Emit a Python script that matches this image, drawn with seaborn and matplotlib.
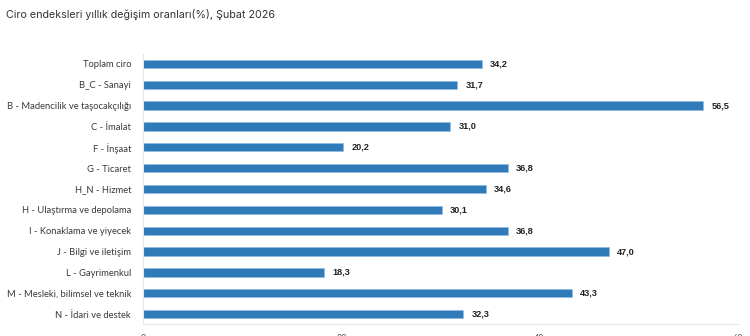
import matplotlib
matplotlib.use("Agg")
import matplotlib.pyplot as plt
import seaborn as sns
import pandas as pd

categories = [
    "Toplam ciro",
    "B_C - Sanayi",
    "B - Madencilik ve taşocakçılığı",
    "C - İmalat",
    "F - İnşaat",
    "G - Ticaret",
    "H_N - Hizmet",
    "H - Ulaştırma ve depolama",
    "I - Konaklama ve yiyecek",
    "J - Bilgi ve iletişim",
    "L - Gayrimenkul",
    "M - Mesleki, bilimsel ve teknik",
    "N - İdari ve destek",
]
values = [34.2, 31.7, 56.5, 31.0, 20.2, 36.8, 34.6, 30.1, 36.8, 47.0, 18.3, 43.3, 32.3]
x_ticks = [0, 20, 40, 60]
title = "Ciro endeksleri yıllık değişim oranları(%), Şubat 2026"

df = pd.DataFrame({"sektor": categories, "oran": values})

sns.set_theme(style="white")
plt.rcParams["font.family"] = ["Lato", "DejaVu Sans"]

fig = plt.figure(figsize=(7.5, 3.36), dpi=100)
ax = fig.add_axes([0.1907, 0.0357, 0.7933, 0.8036])

sns.barplot(data=df, y="sektor", x="oran", orient="h", color="#2f7ab9",
            width=0.4, saturation=1, edgecolor="#8fbde3", linewidth=0.4, ax=ax)

for i, v in enumerate(values):
    ax.text(v + 0.8, i, f"{v:.1f}".replace(".", ","), va="center", ha="left",
            fontsize=6.6, fontweight="bold", color="#222222",
            family=["Liberation Sans", "DejaVu Sans"])

ax.set_xlim(0, 60)
ax.set_ylim(12.48, -0.48)
ax.set_xticks(x_ticks)
ax.set_xticklabels([str(t) for t in x_ticks])
ax.set_xlabel("")
ax.set_ylabel("")
ax.tick_params(axis="x", length=0, pad=7, labelsize=6.5, labelcolor="#555555")
ax.tick_params(axis="y", length=0, pad=8.6, labelsize=6.75, labelcolor="#3a3a3a")

for s in ["top", "right"]:
    ax.spines[s].set_visible(False)
ax.spines["left"].set_color("#e6e6e6")
ax.spines["bottom"].set_color("#e6e6e6")
ax.spines["left"].set_linewidth(0.8)
ax.spines["bottom"].set_linewidth(0.8)

fig.text(6 / 750, 1 - 14 / 336, title, ha="left", va="center", fontsize=7.7,
         color="#333333", family=["Inter", "DejaVu Sans"])

fig.savefig("out.png", dpi=100)
